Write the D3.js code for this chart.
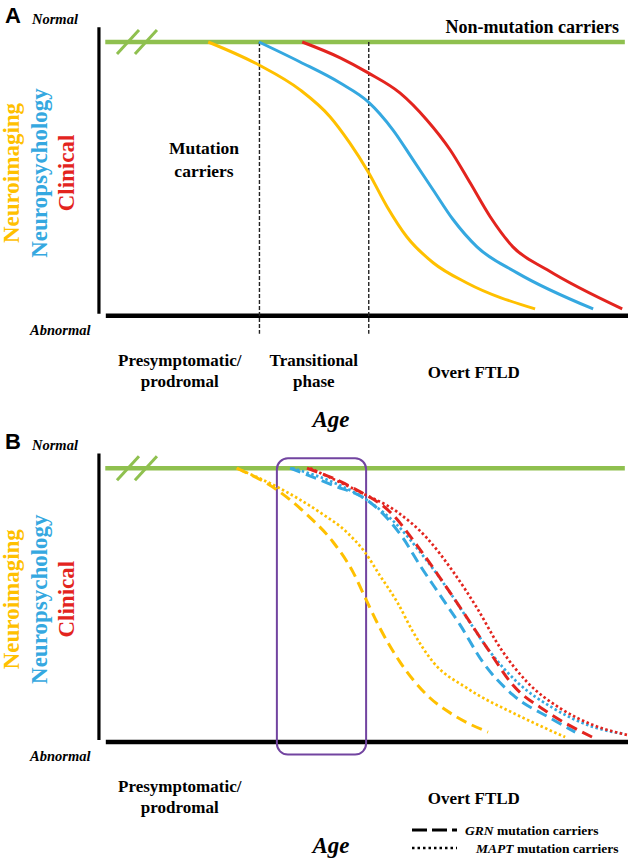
<!DOCTYPE html>
<html>
<head>
<meta charset="utf-8">
<script src="https://cdn.jsdelivr.net/npm/d3@7"></script>
<style>
  body { margin: 0; background: #fff; }
  text { font-family: "Liberation Serif", "Times New Roman", serif; font-weight: bold; }
</style>
</head>
<body>
<div id="chart"></div>
<script>
// ---- data (age 0-100 along x, level 0 = abnormal .. 100 = normal) ----
var markerNames = ["Neuroimaging", "Neuropsychology", "Clinical"];
var phaseNamesA = [["Presymptomatic/", "prodromal"], ["Transitional", "phase"], ["Overt FTLD"]];
var phaseNamesB = [["Presymptomatic/", "prodromal"], ["Overt FTLD"]];
var phaseBoundsA = [30.2, 50.9];
var highlightB = [33.5, 50.4];
var nonCarriers = [[1, 100], [99.4, 100]];
var breakMarks = [5.3, 8.7];

// panel A
var neuroimagingA = [[20.5,100],[30.1,91.6],[37.9,82.5],[43.6,72.6],[47.3,63.1],[50.8,52.5],[54.4,39.7],[58.1,28.8],[63.1,19.3],[69.5,11.9],[82.4,2.4]];
var neuropsychA   = [[30.1,100],[37.9,92.7],[45.5,85.0],[50.8,78.1],[55.5,67.8],[59.3,56.9],[63.1,45.9],[66.9,35.0],[71.4,25.1],[79.0,15.6],[93.4,2.4]];
var clinicalA     = [[38.3,100],[45.5,94.2],[50.8,88.7],[56.8,81.4],[61.9,71.5],[66.3,60.6],[70.1,48.5],[73.9,36.1],[78.2,25.1],[84.7,16.7],[98.9,2.4]];

// panel B
var neuroimagingGRN  = [[25.9,100],[33.5,92.1],[39.2,83.0],[44.1,73.1],[47.9,62.1],[50.6,51.1],[53.0,41.6],[56.8,29.2],[61.9,17.1],[66.9,9.8],[73.5,3.5]];
var neuroimagingMAPT = [[25.9,100],[34.1,92.6],[41.7,83.8],[46.8,76.5],[50.2,69.2],[53.0,60.8],[56.3,51.0],[59.3,40.1],[63.1,29.1],[69.5,19.6],[79.0,9.8],[88.1,1.7]];
var neuropsychGRN    = [[36.0,100],[44.1,93.8],[50.6,88.3],[54.4,81.7],[57.4,74.4],[60.6,64.5],[64.4,53.6],[68.2,42.7],[72.5,29.1],[78.2,17.1],[85.2,8.7],[90.0,3.5]];
var neuropsychMAPT   = [[36.4,100],[44.1,94.9],[51.1,87.6],[56.3,79.2],[60.6,69.4],[65.7,56.2],[69.5,45.2],[73.9,32.8],[79.0,21.8],[85.8,12.3],[93.4,5.4],[99.4,2.8]];
var clinicalGRN      = [[39.2,100],[47.9,92.8],[55.5,82.9],[60.0,71.9],[64.4,59.9],[68.8,47.4],[73.3,34.3],[78.2,20.7],[84.7,10.9],[93.2,1.7]];
var clinicalMAPT     = [[39.8,100],[49.2,91.3],[56.3,84.0],[61.9,74.5],[66.9,62.1],[71.4,48.9],[75.8,34.3],[80.9,21.8],[87.1,12.3],[93.4,6.1],[100,2.4]];

var legendNames = [["GRN", " mutation carriers"], ["MAPT", " mutation carriers"]];

// ---- drawing ----
var width = 633, height = 868;
var yellow = "#FFC000", blue = "#35A8E0", red = "#E3241E", green = "#8FC04F", purple = "#7244A0";
var markerColors = [yellow, blue, red];
var dashed = "11,6", dotted = "2.5,2.5";

var svg = d3.select("#chart").append("svg")
  .attr("width", width).attr("height", height)
  .style("background", "#fff");

var x = d3.scaleLinear().domain([0, 100]).range([100, 628]);

function drawPanel(top, letter, phaseNames, phaseX) {
  var y = d3.scaleLinear().domain([0, 100]).range([top + 273.5, top]);
  var g = svg.append("g");

  g.append("text").attr("x", 5).attr("y", top - 19)
    .style("font-family", "'Liberation Sans', Arial, sans-serif")
    .style("font-size", "22px").text(letter);
  g.append("text").attr("x", 32).attr("y", top - 18)
    .style("font-style", "italic").style("font-size", "14.5px").text("Normal");
  g.append("text").attr("x", 30).attr("y", top + 293)
    .style("font-style", "italic").style("font-size", "14.5px").text("Abnormal");

  // axes
  g.append("line")
    .attr("x1", x(-0.2)).attr("x2", x(-0.2))
    .attr("y1", y(105.4)).attr("y2", y(0.6))
    .attr("stroke", "#000").attr("stroke-width", 3.2);
  g.append("line")
    .attr("x1", x(1.1)).attr("x2", x(100))
    .attr("y1", y(-0.1)).attr("y2", y(-0.1))
    .attr("stroke", "#000").attr("stroke-width", 4.5);

  // non-carrier line with break marks
  g.append("path").datum(nonCarriers)
    .attr("d", d3.line().x(function(d){ return x(d[0]); }).y(function(d){ return y(d[1]); }))
    .attr("stroke", green).attr("stroke-width", 4.5).attr("fill", "none");
  g.selectAll(".brk").data(breakMarks).enter().append("line")
    .attr("x1", function(d){ return x(d) - 11; }).attr("y1", y(100) + 12)
    .attr("x2", function(d){ return x(d) + 11; }).attr("y2", y(100) - 12)
    .attr("stroke", green).attr("stroke-width", 3);

  // rotated marker labels
  markerNames.forEach(function(name, i) {
    g.append("text")
      .attr("transform", "translate(" + [19 + i * 27.5, top + 131] + ") rotate(-90)")
      .attr("text-anchor", "middle")
      .style("font-size", "23px")
      .attr("fill", markerColors[i])
      .text(name);
  });

  // phase labels
  phaseNames.forEach(function(lines, i) {
    var t = g.append("text").attr("text-anchor", "middle").style("font-size", "17px");
    var y0 = lines.length > 1 ? top + 324 : top + 336;
    lines.forEach(function(line, j) {
      t.append("tspan").attr("x", x(phaseX[i])).attr("y", y0 + j * 21).text(line);
    });
  });

  g.append("text").attr("x", 331).attr("y", top + 385)
    .attr("text-anchor", "middle")
    .style("font-style", "italic").style("font-size", "23px").text("Age");

  return { g: g, y: y };
}

function drawCurve(p, data, color, dash, w) {
  p.g.append("path").datum(data)
    .attr("d", d3.line()
      .curve(d3.curveMonotoneX)
      .x(function(d){ return x(d[0]); })
      .y(function(d){ return p.y(d[1]); }))
    .attr("fill", "none")
    .attr("stroke", color)
    .attr("stroke-width", w)
    .attr("stroke-dasharray", dash);
}

// Panel A
var pA = drawPanel(42, "A", phaseNamesA, [15.1, 40.5, 70.8]);
pA.g.selectAll(".phase").data(phaseBoundsA).enter().append("line")
  .attr("x1", function(d){ return x(d); }).attr("x2", function(d){ return x(d); })
  .attr("y1", pA.y(100)).attr("y2", pA.y(-6.7))
  .attr("stroke", "#222").attr("stroke-width", 1.4).attr("stroke-dasharray", "4,2");
drawCurve(pA, neuroimagingA, yellow, null, 3);
drawCurve(pA, neuropsychA, blue, null, 3);
drawCurve(pA, clinicalA, red, null, 3);

pA.g.append("text").attr("x", 619).attr("y", 33)
  .attr("text-anchor", "end").style("font-size", "18px").text("Non-mutation carriers");
var mc = pA.g.append("text").attr("text-anchor", "middle").style("font-size", "17.5px");
mc.append("tspan").attr("x", 204).attr("y", 154).text("Mutation");
mc.append("tspan").attr("x", 204).attr("y", 177).text("carriers");

// Panel B
var pB = drawPanel(468.2, "B", phaseNamesB, [15.1, 70.8]);
pB.g.append("rect")
  .attr("x", x(highlightB[0])).attr("width", x(highlightB[1]) - x(highlightB[0]))
  .attr("y", pB.y(103.6)).attr("height", pB.y(-4.7) - pB.y(103.6))
  .attr("rx", 11).attr("ry", 11)
  .attr("fill", "none").attr("stroke", purple).attr("stroke-width", 2);

drawCurve(pB, neuroimagingMAPT, yellow, dotted, 2.7);
drawCurve(pB, neuroimagingGRN, yellow, dashed, 3);
drawCurve(pB, neuropsychMAPT, blue, dotted, 2.7);
drawCurve(pB, neuropsychGRN, blue, dashed, 3);
drawCurve(pB, clinicalMAPT, red, dotted, 2.7);
drawCurve(pB, clinicalGRN, red, dashed, 3);

// legend
var legendDash = ["15,5", "2.5,3"];
var legendY = [830, 848];
var legendTextX = [465, 476];
legendNames.forEach(function(parts, i) {
  svg.append("line")
    .attr("x1", 412).attr("x2", 457)
    .attr("y1", legendY[i]).attr("y2", legendY[i])
    .attr("stroke", "#000").attr("stroke-width", i === 0 ? 3.2 : 2.5)
    .attr("stroke-dasharray", legendDash[i]);
  var t = svg.append("text").attr("x", legendTextX[i]).attr("y", legendY[i] + 5)
    .style("font-size", "13.5px");
  t.append("tspan").style("font-style", "italic").text(parts[0]);
  t.append("tspan").text(parts[1]);
});
</script>
</body>
</html>
